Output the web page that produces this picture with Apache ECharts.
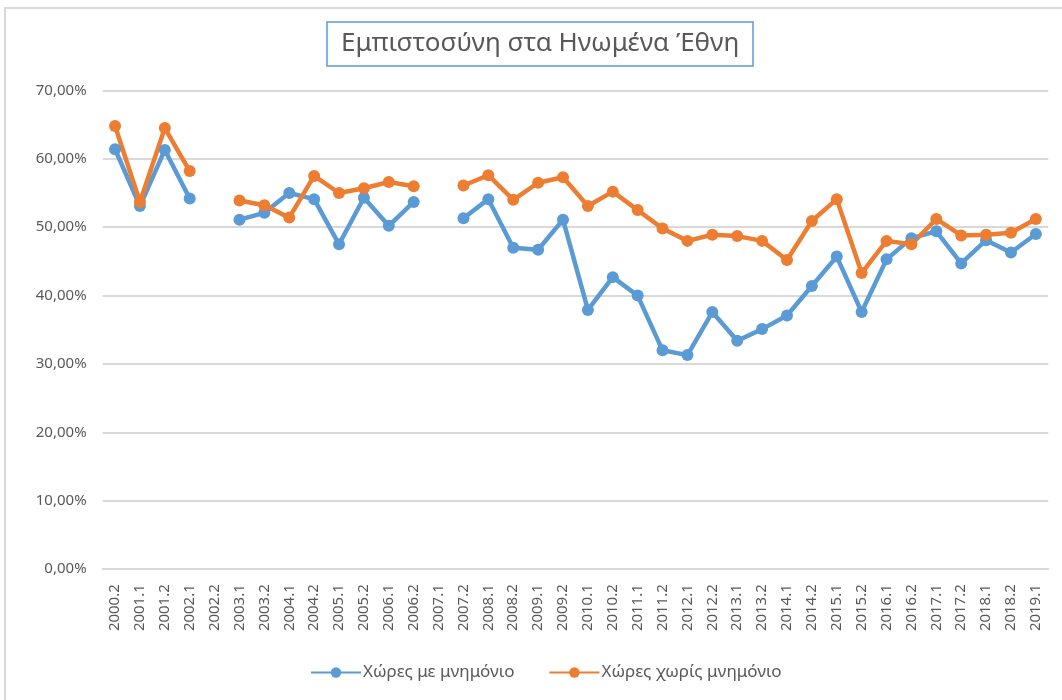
<!DOCTYPE html>
<html>
<head>
<meta charset="utf-8">
<script src="https://cdn.jsdelivr.net/npm/echarts@6/dist/echarts.min.js"></script>
<style>
  html, body { margin: 0; padding: 0; background: #fff; }
  #frame { position: absolute; left: 4px; top: 7px; width: 1070px; height: 710px; border: 2px solid #d9d9d9; box-sizing: border-box; }
  #chart { position: absolute; left: 0; top: 0; width: 1062px; height: 700px; }
</style>
</head>
<body>
<div id="frame"></div>
<div id="chart"></div>
<script>
// περίοδοι (εξάμηνα)
const periods = ['2000.2', '2001.1', '2001.2', '2002.1', '2002.2', '2003.1', '2003.2', '2004.1', '2004.2',
  '2005.1', '2005.2', '2006.1', '2006.2', '2007.1', '2007.2', '2008.1', '2008.2', '2009.1', '2009.2',
  '2010.1', '2010.2', '2011.1', '2011.2', '2012.1', '2012.2', '2013.1', '2013.2', '2014.1', '2014.2',
  '2015.1', '2015.2', '2016.1', '2016.2', '2017.1', '2017.2', '2018.1', '2018.2', '2019.1'];

// Χώρες με μνημόνιο (%)
const withMemo = [61.4, 53.1, 61.3, 54.2, null, 51.1, 52.1, 55.0, 54.1,
  47.5, 54.3, 50.2, 53.7, null, 51.3, 54.1, 47.0, 46.7, 51.1,
  37.9, 42.7, 40.0, 32.0, 31.3, 37.6, 33.4, 35.1, 37.1, 41.4,
  45.7, 37.6, 45.3, 48.4, 49.4, 44.7, 48.1, 46.3, 49.0];

// Χώρες χωρίς μνημόνιο (%)
const withoutMemo = [64.8, 53.7, 64.5, 58.2, null, 53.9, 53.2, 51.4, 57.5,
  55.0, 55.7, 56.6, 56.0, null, 56.1, 57.6, 54.0, 56.5, 57.3,
  53.1, 55.2, 52.5, 49.8, 48.0, 48.9, 48.7, 48.0, 45.2, 50.9,
  54.1, 43.3, 48.0, 47.5, 51.2, 48.8, 48.9, 49.2, 51.2];

const FONT = 'Noto Sans';
const TXT = '#595959';

const chart = echarts.init(document.getElementById('chart'));
const option = {
  backgroundColor: 'transparent',
  animation: false,
  color: ['#5B9BD5', '#ED7D31'],
  title: {
    text: 'Εμπιστοσύνη στα Ηνωμένα Έθνη',
    left: 327,
    top: 22,
    padding: [9, 14, 9, 14],
    borderColor: '#5B9BD5',
    borderWidth: 1.5,
    textStyle: { fontFamily: FONT, fontSize: 26, fontWeight: 'normal', color: TXT }
  },
  grid: { left: 102.6, right: 13.7, top: 90.4, bottom: 130.8, containLabel: false },
  legend: {
    left: 305,
    top: 659,
    itemWidth: 50,
    itemHeight: 13,
    itemGap: 34,
    textStyle: { fontFamily: FONT, fontSize: 17, color: TXT, padding: [0, 0, 0, -3] },
    data: ['Χώρες με μνημόνιο', 'Χώρες χωρίς μνημόνιο']
  },
  xAxis: {
    type: 'category',
    data: periods,
    boundaryGap: true,
    axisLine: { lineStyle: { color: '#d9d9d9', width: 2 } },
    axisTick: { show: false },
    axisLabel: { rotate: 90, interval: 0, fontFamily: FONT, fontSize: 15, color: TXT, margin: 15 }
  },
  yAxis: {
    type: 'value',
    min: 0,
    max: 70,
    interval: 10,
    axisLine: { show: false },
    axisTick: { show: false },
    splitLine: { lineStyle: { color: '#d9d9d9', width: 2 } },
    axisLabel: {
      fontFamily: FONT, fontSize: 15, color: TXT, margin: 16,
      formatter: v => v.toFixed(2).replace('.', ',') + '%'
    }
  },
  series: [
    {
      name: 'Χώρες με μνημόνιο',
      type: 'line',
      data: withMemo,
      connectNulls: false,
      symbol: 'circle',
      symbolSize: 12,
      lineStyle: { width: 4.5 }
    },
    {
      name: 'Χώρες χωρίς μνημόνιο',
      type: 'line',
      data: withoutMemo,
      connectNulls: false,
      symbol: 'circle',
      symbolSize: 12,
      lineStyle: { width: 4.5 }
    }
  ]
};
chart.setOption(option);
</script>
</body>
</html>
